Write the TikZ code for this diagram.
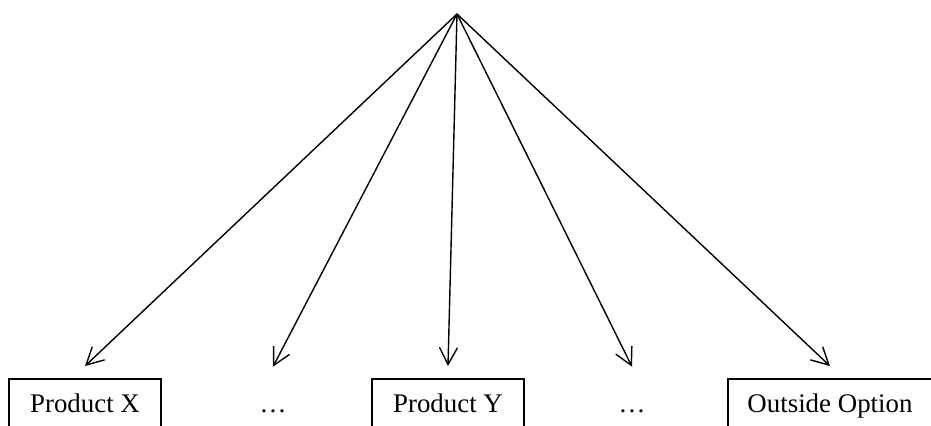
\documentclass[tikz,border=0pt]{standalone}
\usepackage{fontspec}
\setmainfont{Liberation Serif}
\usetikzlibrary{arrows.meta}
\tikzset{
  opt/.style={minimum height=1.16cm, text height=0.7em, text depth=0.2em,
    inner sep=0pt, font=\fontsize{15.3}{18}\selectfont},
  optbox/.style={opt, draw, line width=1.1pt},
}
\begin{document}
\begin{tikzpicture}[x=0.02cm, y=-0.02cm]
      \useasboundingbox (0,0) rectangle (931,426);
      \clip (0,0) rectangle (931,426);
      \coordinate (top) at (457,14);
      \draw
        (85,408) node[optbox, minimum width=3.04cm] (x){Product X}
        (273,408) node[opt] (d1){…}
        (448,408) node[optbox, minimum width=3.04cm] (y){Product Y}
        (632,408) node[opt] (d2){…}
        (830,408) node[optbox, minimum width=4.08cm] (out){Outside Option};
      \begin{scope}[-{Straight Barb[length=0.34cm,width=0.36cm]}, line width=0.8pt]
        \draw (top) to ([yshift=0.24cm]x.north);
        \draw (top) to ([yshift=0.24cm]d1.north);
        \draw (top) to ([yshift=0.24cm]y.north);
        \draw (top) to ([yshift=0.24cm]d2.north);
        \draw (top) to ([yshift=0.24cm]out.north);
      \end{scope}
    \end{tikzpicture}
\end{document}
